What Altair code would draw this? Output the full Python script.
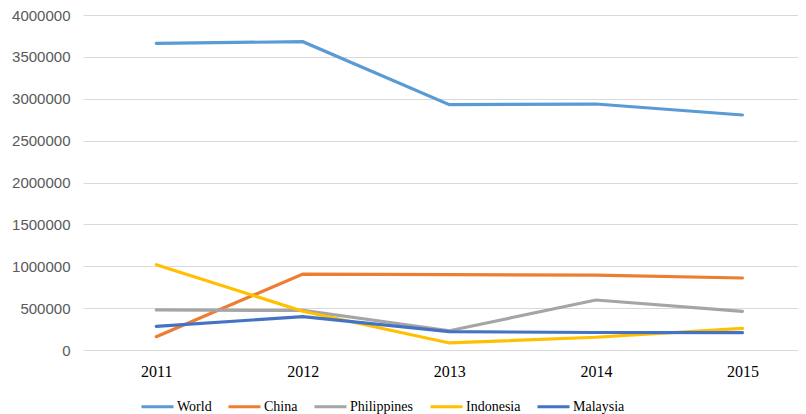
import altair as alt
import pandas as pd

years = [2011, 2012, 2013, 2014, 2015]
series = ["World", "China", "Philippines", "Indonesia", "Malaysia"]
colors = ["#5B9BD5", "#ED7D31", "#A5A5A5", "#FFC000", "#4472C4"]

world = [3662000, 3681000, 2929000, 2937000, 2806000]
china = [159000, 907000, 900000, 895000, 860000]
philippines = [478000, 472000, 230000, 597000, 462000]
indonesia = [1019000, 462000, 84000, 152000, 259000]
malaysia = [283000, 398000, 219000, 209000, 207000]

values = [world, china, philippines, indonesia, malaysia]
rows = []
for name, vals in zip(series, values):
    for yr, v in zip(years, vals):
        rows.append({"year": yr, "country": name, "value": v})
df = pd.DataFrame(rows)

serif = "Times New Roman"

chart = alt.Chart(df).mark_line(strokeWidth=3.2, strokeCap="round", strokeJoin="miter").encode(
    x=alt.X("year:Q",
            scale=alt.Scale(domain=[2010.5, 2015.379], nice=False, zero=False),
            axis=alt.Axis(values=years, format="d", title=None, grid=False, domain=False,
                          ticks=False, labelFont=serif, labelFontSize=16,
                          labelColor="#000000", labelPadding=13)),
    y=alt.Y("value:Q",
            scale=alt.Scale(domain=[0, 4000000], nice=False),
            axis=alt.Axis(values=[0, 500000, 1000000, 1500000, 2000000, 2500000, 3000000, 3500000, 4000000],
                          format="d", title=None, domain=False, ticks=False,
                          gridColor="#D9D9D9", gridWidth=1,
                          labelFont="Liberation Sans", labelFontSize=15,
                          labelColor="#595959", labelPadding=13)),
    color=alt.Color("country:N",
                    scale=alt.Scale(domain=series, range=colors),
                    sort=series,
                    legend=alt.Legend(title=None, orient="none", direction="horizontal",
                                      legendX=57, legendY=374,
                                      symbolType="stroke", symbolSize=1024, symbolStrokeWidth=3,
                                      labelFont=serif, labelFontSize=14,
                                      labelColor="#000000", labelOffset=2, columnPadding=10)),
).properties(
    width=715, height=335,
    padding={"top": 0, "left": 3, "right": 0, "bottom": 0},
).configure_view(stroke=None)

chart.save("out.html", embed_options={"renderer": "svg", "actions": False})
